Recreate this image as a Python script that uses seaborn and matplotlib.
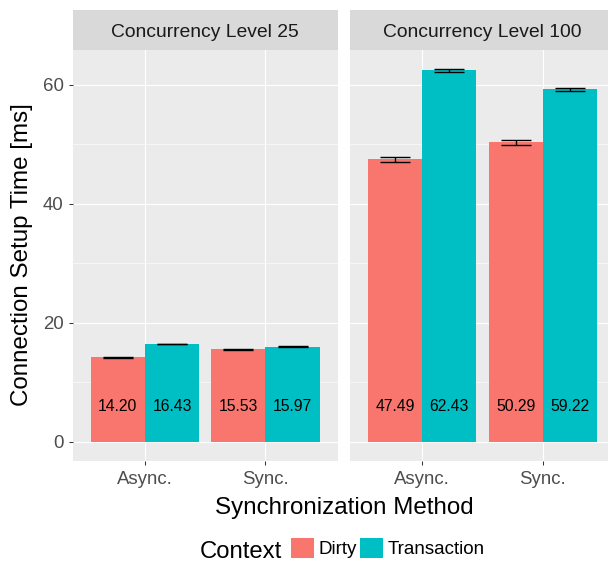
import matplotlib
matplotlib.use("Agg")
import matplotlib.pyplot as plt
import seaborn as sns
import pandas as pd
from matplotlib.patches import Patch
from matplotlib.ticker import MultipleLocator

# ---------------- data ----------------
levels = ["Concurrency Level 25", "Concurrency Level 100"]
methods = ["Async.", "Sync."]
contexts = ["Dirty", "Transaction"]
# order per level: Async-Dirty, Async-Transaction, Sync-Dirty, Sync-Transaction
l25_means = [14.20, 16.43, 15.53, 15.97]
l25_err = [0.10, 0.08, 0.08, 0.10]
l100_means = [47.49, 62.43, 50.29, 59.22]
l100_err = [0.42, 0.25, 0.45, 0.28]
colors = ["#F8766D", "#00BFC4"]
y_ticks = [0, 20, 40, 60]

rows = []
for lvl, means, errs in [(levels[0], l25_means, l25_err), (levels[1], l100_means, l100_err)]:
    k = 0
    for m in methods:
        for c in contexts:
            rows.append(dict(level=lvl, method=m, context=c, time=means[k], err=errs[k]))
            k += 1
df = pd.DataFrame(rows)

# ---------------- style ----------------
plt.rcParams["font.family"] = ["Liberation Sans", "DejaVu Sans"]
W, H = 608, 562
fig = plt.figure(figsize=(W / 100, H / 100), dpi=100)

def fx(px):
    return px / W

def fy(py):
    return 1 - py / H

pan_top, pan_bot = 50, 460.5
pan_w = 265
lefts = [72.7, 350]
ymax_data = max((df.time + df.err).max(), 0)
rng = ymax_data - 0
ylim = (0 - 0.05 * rng, ymax_data + 0.05 * rng)

for i, lvl in enumerate(levels):
    ax = fig.add_axes([fx(lefts[i]), fy(pan_bot), fx(pan_w), (pan_bot - pan_top) / H])
    sub = df[df.level == lvl]
    sns.barplot(data=sub, x="method", y="time", hue="context", order=methods,
                hue_order=contexts, palette=colors, saturation=1, width=0.9,
                errorbar=None, linewidth=0, legend=False, ax=ax)
    bar_containers = list(ax.containers)
    for ci, cont in enumerate(bar_containers):
        ctx = contexts[ci]
        for bar, m in zip(cont, methods):
            r = sub[(sub.method == m) & (sub.context == ctx)].iloc[0]
            cx = bar.get_x() + bar.get_width() / 2
            ax.errorbar([cx], [r.time], yerr=[r.err], fmt="none", ecolor="black",
                        elinewidth=1.0, capsize=10.8, capthick=1.0, zorder=4)
            ax.text(cx, 5.2, f"{r.time:.2f}", ha="center", va="baseline",
                    fontsize=11.3, color="black", zorder=5)
    ax.set_xlim(-0.6, 1.6)
    ax.set_ylim(*ylim)
    ax.set_facecolor("#EBEBEB")
    for s in ax.spines.values():
        s.set_visible(False)
    ax.set_yticks(y_ticks)
    ax.yaxis.set_minor_locator(MultipleLocator(10))
    ax.set_axisbelow(True)
    ax.grid(which="major", color="white", linewidth=0.8)
    ax.grid(which="minor", axis="y", color="white", linewidth=0.4)
    ax.tick_params(which="minor", length=0)
    ax.tick_params(axis="both", which="major", length=2.9, width=0.75, color="#333333",
                   labelsize=13.4, labelcolor="#4D4D4D")
    ax.tick_params(axis="x", pad=4.8)
    ax.tick_params(axis="y", pad=3.6)
    ax.set_xlabel("")
    ax.set_ylabel("")
    if i == 1:
        ax.tick_params(axis="y", left=False, labelleft=False)

    # strip
    sax = fig.add_axes([fx(lefts[i]), fy(pan_top), fx(pan_w), 40 / H])
    sax.set_facecolor("#D9D9D9")
    sax.set_xticks([]); sax.set_yticks([])
    for s in sax.spines.values():
        s.set_visible(False)
    sax.text(0.5, (50 - 36.7) / 40, lvl, ha="center", va="baseline",
             fontsize=13.9, color="#1A1A1A", transform=sax.transAxes)

fig.text(fx(343.9), fy(514), "Synchronization Method", ha="center", va="baseline",
         fontsize=17.4, color="black")
fig.text(fx(22), fy(255), "Connection Setup Time [ms]", ha="center", va="center",
         rotation=90, fontsize=17.4, color="black")

fig.text(fx(199.3), fy(557.7), "Context", ha="left", va="baseline", fontsize=17.2,
         color="black")
fs = 13.5
fpx = fs * 100 / 72
handles = [Patch(facecolor=c, edgecolor="none") for c in colors]
fig.legend(handles, contexts, loc="center left", bbox_to_anchor=(fx(291), fy(548)),
           ncol=2, frameon=False, fontsize=fs, handlelength=23 / fpx,
           handleheight=23 / fpx, handletextpad=4 / fpx, columnspacing=4 / fpx,
           borderpad=0, borderaxespad=0)

fig.savefig("out.png", dpi=100)
